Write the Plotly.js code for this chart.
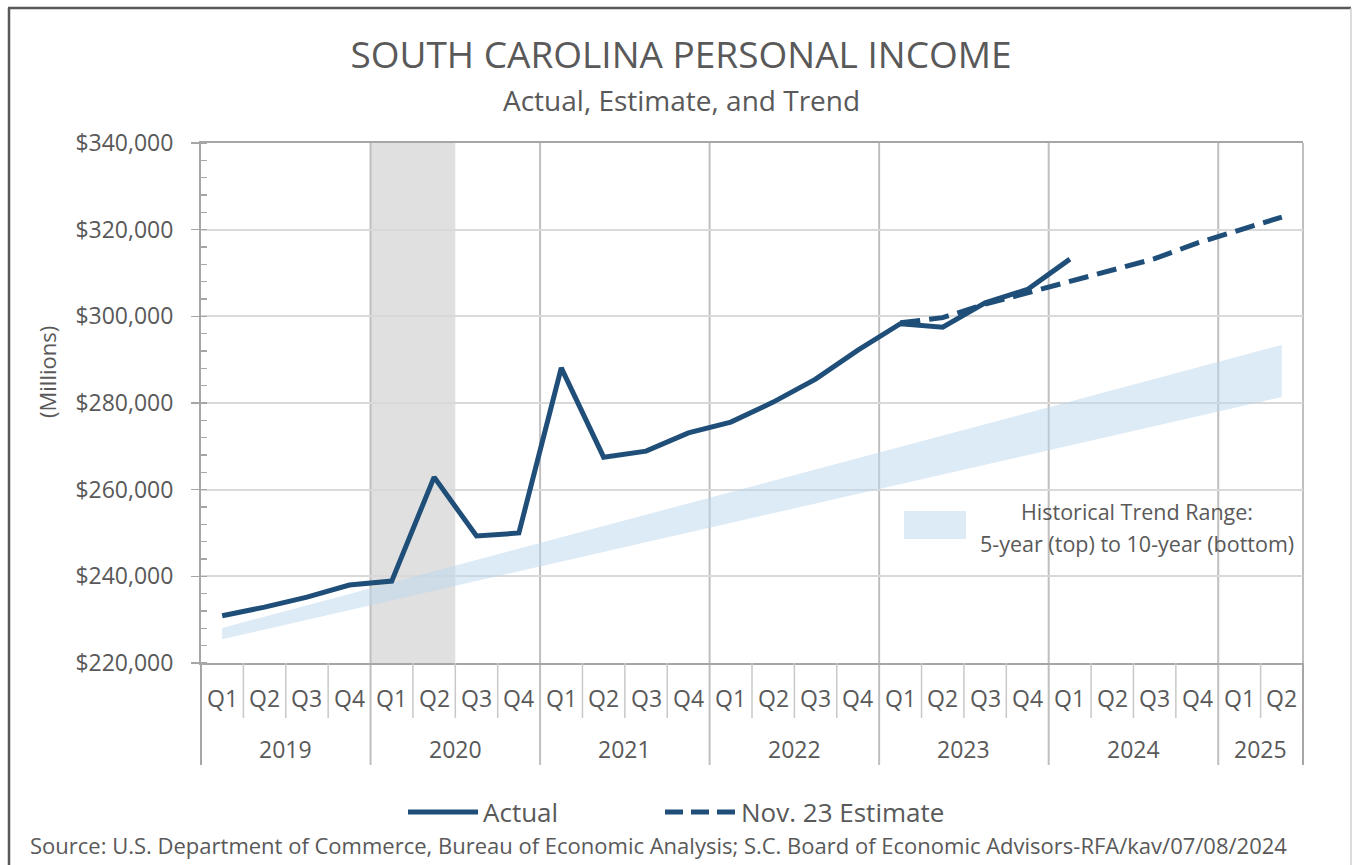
<!DOCTYPE html>
<html>
<head>
<meta charset="utf-8">
<script src="https://cdn.plot.ly/plotly-3.0.1.min.js"></script>
<style>html,body{margin:0;padding:0;background:#fff;}#chart{width:1353px;height:865px;}</style>
</head>
<body>
<div id="chart"></div>
<script>
// ---- data ----
const years = ['2019', '2020', '2021', '2022', '2023', '2024', '2025'];
const quartersInYear = [4, 4, 4, 4, 4, 4, 2];
const quarterNames = ['Q1', 'Q2', 'Q3', 'Q4'];

// Actual personal income ($ millions), 2019 Q1 .. 2024 Q1
const actualStart = '2019 Q1';
const actualIncome = [230900, 232900, 235200, 238000, 238900, 262900, 249300, 250000,
  288100, 267500, 268900, 273100, 275600, 280200, 285500, 292200,
  298300, 297500, 303100, 306200, 313200];

// Nov. 23 Estimate, 2023 Q1 .. 2025 Q2
const estimateStart = '2023 Q1';
const estimateIncome = [298500, 299700, 302800, 305400, 307900, 310600, 313300, 316900, 319900, 322900];

// Historical trend range end points
const trendPeriods = ['2019 Q1', '2025 Q2'];
const trend5yr = [228100, 293400];
const trend10yr = [225500, 281400];

// Recession shading
const recessionPeriods = ['2020 Q1', '2020 Q2'];

// ---- build categories ----
const periods = [];
const periodQuarter = [];
years.forEach((y, i) => {
  for (let q = 0; q < quartersInYear[i]; q++) {
    periods.push(y + ' ' + quarterNames[q]);
    periodQuarter.push(quarterNames[q]);
  }
});
const idx = p => periods.indexOf(p);
const seriesX = (start, n) => Array.from({length: n}, (_, k) => idx(start) + k);

// pixel helpers for decorations (plot area: x 201..1303, y 143..663)
const L = 201, R = 1303, T = 143, B = 663;
const px = x => (x - L) / (R - L);
const py = y => (B - y) / (B - T);

const textColor = '#595959';
const lineBlue = '#1F4E79';
const FONT = '"Open Sans", "Noto Sans", sans-serif';

const traces = [
  {x: trendPeriods.map(idx), y: trend10yr, mode: 'lines', line: {width: 0, color: 'rgba(0,0,0,0)'},
   hoverinfo: 'skip', showlegend: false},
  {x: trendPeriods.map(idx), y: trend5yr, mode: 'lines', line: {width: 0, color: 'rgba(0,0,0,0)'},
   fill: 'tonexty', fillcolor: 'rgba(187,215,239,0.5)', hoverinfo: 'skip', showlegend: false},
  {x: seriesX(estimateStart, estimateIncome.length), y: estimateIncome, mode: 'lines', name: 'Nov. 23 Estimate',
   line: {color: lineBlue, width: 5, dash: '20px,9px'}, showlegend: false},
  {x: seriesX(actualStart, actualIncome.length), y: actualIncome, mode: 'lines', name: 'Actual',
   line: {color: lineBlue, width: 5}, showlegend: false}
];

const n = periods.length;
const shapes = [];
const annotations = [];

// recession shade
shapes.push({type: 'rect', xref: 'x', yref: 'paper', layer: 'below',
  x0: idx(recessionPeriods[0]) - 0.5, x1: idx(recessionPeriods[1]) + 0.5, y0: 0, y1: 1,
  fillcolor: '#E0E0E0', line: {width: 0}});

// year boundaries (within plot and label area) and quarter dividers
let pos = 0;
const yearBounds = [];
years.forEach((y, i) => {
  const start = pos, end = pos + quartersInYear[i];
  annotations.push({xref: 'x', yref: 'paper', x: (start + end - 1) / 2, y: py(749), text: y,
    showarrow: false, font: {size: 23, color: textColor, family: FONT}, xanchor: 'center', yanchor: 'middle'});
  yearBounds.push(end - 0.5);
  pos = end;
});
yearBounds.pop();
yearBounds.forEach(b => {
  shapes.push({type: 'line', xref: 'x', yref: 'paper', x0: b, x1: b, y0: py(765), y1: 1,
    line: {color: '#BFBFBF', width: 2}, layer: 'below'});
});
// edges extended down
[0, 1].forEach(e => shapes.push({type: 'line', xref: 'paper', yref: 'paper', x0: e, x1: e, y0: py(765), y1: 0,
  line: {color: '#A6A6A6', width: 2}}));
shapes.push({type: 'line', xref: 'paper', yref: 'paper', x0: 1, x1: 1, y0: 0, y1: 1,
  line: {color: '#BFBFBF', width: 2}, layer: 'below'});
for (let k = 0; k < n - 1; k++) {
  if (yearBounds.includes(k + 0.5)) continue;
  shapes.push({type: 'line', xref: 'x', yref: 'paper', x0: k + 0.5, x1: k + 0.5, y0: py(718), y1: 0,
    line: {color: '#C8C8C8', width: 1.5}});
}
periods.forEach((p, k) => {
  annotations.push({xref: 'x', yref: 'paper', x: k, y: py(698), text: periodQuarter[k], showarrow: false,
    font: {size: 23, color: textColor, family: FONT}, xanchor: 'center', yanchor: 'middle'});
});

// outer frame
shapes.push({type: 'line', xref: 'paper', yref: 'paper', x0: px(9), x1: px(9), y0: py(8), y1: py(870),
  line: {color: '#595959', width: 2.5}});
shapes.push({type: 'line', xref: 'paper', yref: 'paper', x0: px(8), x1: px(1351), y0: py(8), y1: py(8),
  line: {color: '#595959', width: 2.5}});
shapes.push({type: 'line', xref: 'paper', yref: 'paper', x0: px(1351), x1: px(1351), y0: py(8), y1: py(870),
  line: {color: '#D0D0D0', width: 1.5}});

// subtitle
annotations.push({xref: 'paper', yref: 'paper', x: px(681), y: py(100), text: 'Actual, Estimate, and Trend',
  showarrow: false, font: {size: 28, color: textColor, family: FONT}, xanchor: 'center', yanchor: 'middle'});
// y title
annotations.push({xref: 'paper', yref: 'paper', x: px(47), y: py(372), text: '(Millions)', textangle: -90,
  showarrow: false, font: {size: 22, color: textColor, family: FONT}, xanchor: 'center', yanchor: 'middle'});

// band legend
shapes.push({type: 'rect', xref: 'paper', yref: 'paper', x0: px(904), x1: px(966), y0: py(539), y1: py(511),
  fillcolor: '#DDEBF7', line: {width: 0}});
annotations.push({xref: 'paper', yref: 'paper', x: px(1137), y: py(512), text: 'Historical Trend Range:',
  showarrow: false, font: {size: 21.5, color: textColor, family: FONT}, xanchor: 'center', yanchor: 'middle'});
annotations.push({xref: 'paper', yref: 'paper', x: px(1137), y: py(543), text: '5-year (top) to 10-year (bottom)',
  showarrow: false, font: {size: 21.5, color: textColor, family: FONT}, xanchor: 'center', yanchor: 'middle'});

// bottom legend
shapes.push({type: 'line', xref: 'paper', yref: 'paper', x0: px(408), x1: px(478), y0: py(812), y1: py(812),
  line: {color: lineBlue, width: 5}});
annotations.push({xref: 'paper', yref: 'paper', x: px(481), y: py(812), text: 'Actual',
  showarrow: false, font: {size: 26, color: textColor, family: FONT}, xanchor: 'left', yanchor: 'middle'});
shapes.push({type: 'line', xref: 'paper', yref: 'paper', x0: px(665), x1: px(735), y0: py(812), y1: py(812),
  line: {color: lineBlue, width: 5, dash: '18px,8px'}});
annotations.push({xref: 'paper', yref: 'paper', x: px(739), y: py(812), text: 'Nov. 23 Estimate',
  showarrow: false, font: {size: 26, color: textColor, family: FONT}, xanchor: 'left', yanchor: 'middle'});

// source
annotations.push({xref: 'paper', yref: 'paper', x: px(28), y: py(845),
  text: 'Source: U.S. Department of Commerce, Bureau of Economic Analysis; S.C. Board of Economic Advisors-RFA/kav/07/08/2024',
  showarrow: false, font: {size: 22, color: textColor, family: FONT}, xanchor: 'left', yanchor: 'middle'});

const layout = {
  width: 1353, height: 865,
  margin: {l: L, r: 1353 - R, t: T, b: 865 - B, pad: 0},
  paper_bgcolor: '#ffffff', plot_bgcolor: '#ffffff',
  font: {family: FONT, color: textColor},
  title: {text: 'SOUTH CAROLINA PERSONAL INCOME', font: {size: 37, color: textColor, family: FONT},
    x: 681 / 1353, xanchor: 'center', y: 1 - 55 / 865, yanchor: 'middle', xref: 'container', yref: 'container'},
  xaxis: {range: [-0.5, n - 0.5], showgrid: false, zeroline: false, showticklabels: false, ticks: '',
    showline: true, mirror: true, linecolor: '#A6A6A6', linewidth: 2, fixedrange: true},
  yaxis: {range: [220000, 340000], dtick: 20000, tick0: 220000, tickprefix: '$', tickformat: ',d',
    showgrid: true, gridcolor: '#D9D9D9', gridwidth: 2, zeroline: false,
    showline: true, linecolor: '#A6A6A6', linewidth: 2,
    ticks: 'outside', ticklen: 8, tickcolor: '#A6A6A6', tickwidth: 1.5, ticklabelstandoff: 13,
    minor: {dtick: 4000, ticks: 'inside', ticklen: 6, tickcolor: '#A6A6A6', tickwidth: 1.5, showgrid: false},
    tickfont: {size: 23, color: textColor, family: FONT}, fixedrange: true},
  shapes: shapes,
  annotations: annotations,
  showlegend: false
};

Plotly.newPlot('chart', traces, layout, {displayModeBar: false, staticPlot: true});
</script>
</body>
</html>
